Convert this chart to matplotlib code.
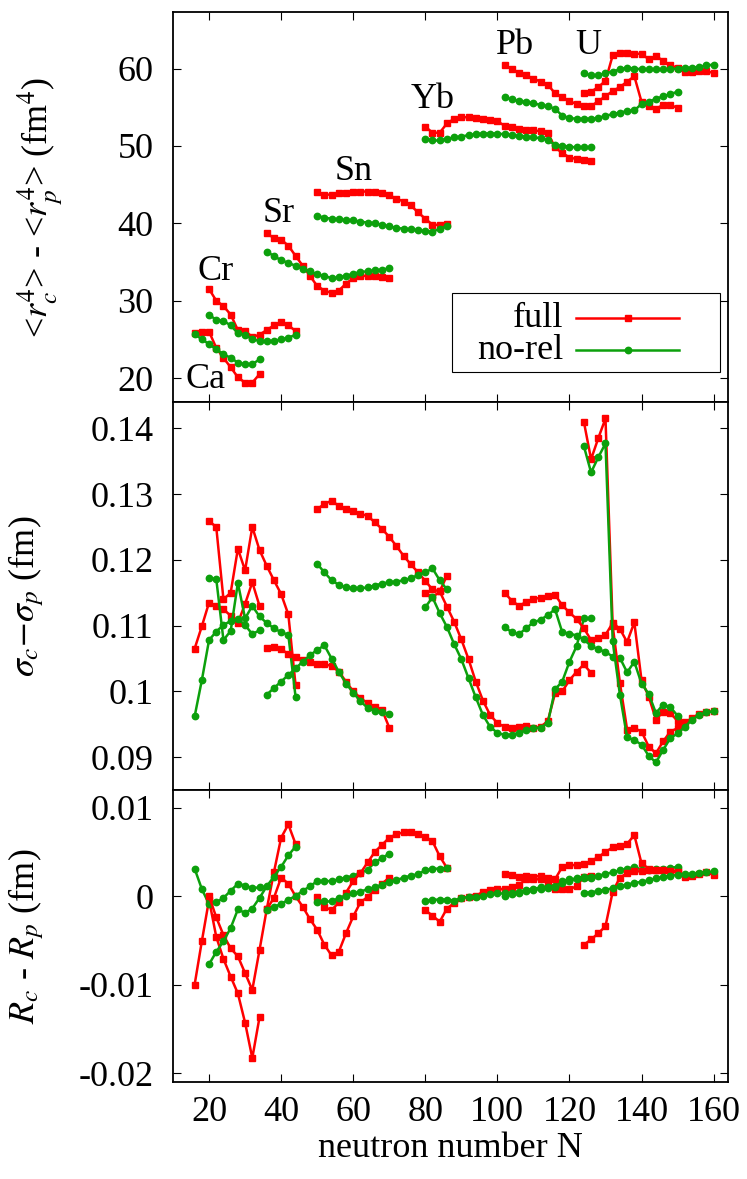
import numpy as np
import matplotlib
matplotlib.use("Agg")
import matplotlib.pyplot as plt
from matplotlib.ticker import FuncFormatter
from matplotlib.patches import Rectangle

plt.rcParams['font.family'] = ['Liberation Serif', 'DejaVu Serif']
plt.rcParams['mathtext.fontset'] = 'stix'

# neutron numbers of each isotopic chain
N_Ca = list(range(16, 35, 2))
N_Cr = list(range(20, 45, 2))
N_Sr = list(range(36, 71, 2))
N_Sn = list(range(50, 87, 2))
N_Yb = list(range(80, 127, 2))
N_Pb = list(range(102, 151, 2))
N_U = list(range(124, 161, 2))

# <r_c^4> - <r_p^4>  (fm^4)
r4_full_Ca = [25.8, 25.9, 26.0, 23.9, 22.6, 21.4, 20.1, 19.4, 19.4, 20.5]
r4_norel_Ca = [25.7, 25.0, 24.4, 23.7, 23.1, 22.6, 22.0, 21.8, 21.8, 22.4]
r4_full_Cr = [31.5, 30.0, 29.3, 28.2, 26.2, 26.1, 25.3, 25.6, 26.2, 26.8, 27.2, 26.8, 26.1]
r4_norel_Cr = [28.2, 27.5, 27.4, 26.8, 25.8, 25.6, 25.0, 24.8, 24.8, 24.8, 25.0, 25.2, 25.6]
r4_full_Sr = [38.7, 38.1, 37.9, 37.1, 35.8, 34.5, 33.2, 31.9, 31.3, 31.0, 31.3, 32.2, 32.9,
              33.2, 33.2, 33.2, 33.0, 32.9]
r4_norel_Sr = [36.3, 35.8, 35.2, 34.9, 34.5, 34.1, 33.8, 33.4, 33.2, 32.9, 33.0, 33.2, 33.5,
               33.7, 33.8, 33.9, 34.0, 34.2]
r4_full_Sn = [44.0, 43.7, 43.7, 43.9, 43.9, 44.0, 44.1, 44.1, 44.0, 43.9, 43.6, 43.2, 42.8,
              42.3, 41.4, 40.6, 39.8, 39.8, 39.9]
r4_norel_Sn = [41.0, 40.7, 40.6, 40.5, 40.4, 40.4, 40.2, 40.1, 40.0, 39.8, 39.6, 39.4, 39.3,
               39.2, 39.1, 39.0, 38.9, 39.3, 39.6]
r4_full_Yb = [52.5, 51.7, 51.7, 52.9, 53.5, 53.7, 53.7, 53.6, 53.5, 53.4, 53.2, 52.6, 52.4,
              52.2, 52.1, 52.0, 51.9, 51.7, 49.8, 49.1, 48.5, 48.3, 48.2, 48.0]
r4_norel_Yb = [50.9, 50.7, 50.7, 50.9, 51.1, 51.2, 51.4, 51.5, 51.6, 51.6, 51.6, 51.5, 51.4,
               51.3, 51.2, 51.1, 51.0, 50.8, 50.1, 50.0, 49.9, 49.8, 49.8, 49.8]
r4_full_Pb = [60.4, 60.0, 59.4, 59.1, 58.7, 58.3, 57.9, 56.8, 56.3, 55.8, 55.4, 55.1, 55.1,
              55.8, 56.4, 57.1, 57.6, 58.3, 59.0, 55.7, 55.1, 54.8, 55.3, 55.3, 54.9]
r4_norel_Pb = [56.3, 56.0, 55.8, 55.7, 55.5, 55.3, 55.1, 54.8, 53.9, 53.6, 53.5, 53.5, 53.5,
               53.6, 53.9, 54.1, 54.3, 54.5, 54.6, 55.4, 55.7, 56.1, 56.4, 56.7, 57.0]
r4_full_U = [56.9, 57.0, 57.6, 58.4, 61.7, 62.0, 62.0, 61.9, 61.9, 61.2, 61.6, 61.0, 60.4,
             60.1, 59.5, 59.6, 59.7, 59.7, 59.4]
r4_norel_U = [59.4, 59.1, 59.1, 59.4, 59.6, 59.9, 60.1, 60.0, 59.9, 59.9, 59.9, 59.9, 59.9,
              60.0, 60.1, 60.1, 60.2, 60.4, 60.5]

# sigma_c - sigma_p  (fm)
sg_full_Ca = [0.1065, 0.1099, 0.1135, 0.1130, 0.1125, 0.1115, 0.1104, 0.1133, 0.1166, 0.1130]
sg_norel_Ca = [0.0962, 0.1017, 0.1078, 0.1091, 0.1101, 0.1107, 0.1110, 0.1101, 0.1087, 0.1093]
sg_full_Cr = [0.1259, 0.1250, 0.1140, 0.1150, 0.1217, 0.1184, 0.1250, 0.1215, 0.1191, 0.1169,
              0.1148, 0.1117, 0.1010]
sg_norel_Cr = [0.1172, 0.1171, 0.1078, 0.1092, 0.1165, 0.1111, 0.1130, 0.1114, 0.1104, 0.1096,
               0.1090, 0.1086, 0.0992]
sg_full_Sr = [0.1066, 0.1068, 0.1064, 0.1057, 0.1052, 0.1048, 0.1045, 0.1042, 0.1041, 0.1039,
              0.1030, 0.1015, 0.1000, 0.0990, 0.0982, 0.0977, 0.0972, 0.0945]
sg_norel_Sr = [0.0995, 0.1005, 0.1015, 0.1025, 0.1035, 0.1045, 0.1055, 0.1063, 0.1070, 0.1050,
               0.1030, 0.1012, 0.0998, 0.0985, 0.0975, 0.0970, 0.0968, 0.0966]
sg_full_Sn = [0.1277, 0.1285, 0.1290, 0.1282, 0.1277, 0.1274, 0.1270, 0.1267, 0.1257, 0.1247,
              0.1235, 0.1221, 0.1206, 0.1193, 0.1181, 0.1168, 0.1155, 0.1152, 0.1176]
sg_norel_Sn = [0.1194, 0.1181, 0.1169, 0.1162, 0.1158, 0.1157, 0.1157, 0.1158, 0.1161, 0.1164,
               0.1166, 0.1167, 0.1169, 0.1172, 0.1177, 0.1181, 0.1187, 0.1169, 0.1155]
sg_full_Yb = [0.1150, 0.1143, 0.1152, 0.1129, 0.1106, 0.1079, 0.1049, 0.1015, 0.0986, 0.0964,
              0.0952, 0.0946, 0.0944, 0.0946, 0.0948, 0.0945, 0.0946, 0.0955, 0.0997, 0.1000,
              0.1017, 0.1030, 0.1041, 0.1028]
sg_norel_Yb = [0.1128, 0.1143, 0.1119, 0.1098, 0.1072, 0.1049, 0.1020, 0.0991, 0.0964, 0.0946,
               0.0937, 0.0934, 0.0934, 0.0937, 0.0941, 0.0944, 0.0945, 0.0952, 0.1003, 0.1015,
               0.1045, 0.1069, 0.1111, 0.1111]
sg_full_Pb = [0.1150, 0.1138, 0.1130, 0.1136, 0.1141, 0.1142, 0.1145, 0.1147, 0.1131, 0.1120,
              0.1110, 0.1096, 0.1078, 0.1081, 0.1086, 0.1104, 0.1095, 0.1075, 0.1105, 0.1017,
              0.0992, 0.0957, 0.0969, 0.0967, 0.0955]
sg_norel_Pb = [0.1098, 0.1090, 0.1087, 0.1096, 0.1105, 0.1109, 0.1116, 0.1125, 0.1090, 0.1088,
               0.1085, 0.1079, 0.1069, 0.1064, 0.1060, 0.1053, 0.1051, 0.1029, 0.1045, 0.1012,
               0.0996, 0.0967, 0.0980, 0.0976, 0.0963]
sg_full_U = [0.1410, 0.1353, 0.1385, 0.1415, 0.1100, 0.1013, 0.0942, 0.0944, 0.0939, 0.0916,
             0.0906, 0.0924, 0.0939, 0.0944, 0.0953, 0.0959, 0.0966, 0.0968, 0.0970]
sg_norel_U = [0.1373, 0.1333, 0.1356, 0.1377, 0.1076, 0.0995, 0.0930, 0.0926, 0.0919, 0.0902,
              0.0892, 0.0911, 0.0929, 0.0936, 0.0946, 0.0957, 0.0964, 0.0968, 0.0970]

# R_c - R_p  (fm)
dR_full_Ca = [-0.0100, -0.0051, -0.0004, -0.0046, -0.0071, -0.0091, -0.0110, -0.0143, -0.0183,
              -0.0137]
dR_norel_Ca = [0.0031, 0.0008, -0.0009, -0.0007, -0.0002, 0.0006, 0.0014, 0.0012, 0.0009, 0.0010]
dR_full_Cr = [0.0000, -0.0024, -0.0044, -0.0059, -0.0068, -0.0087, -0.0106, -0.0061, -0.0015,
              0.0027, 0.0066, 0.0081, 0.0059]
dR_norel_Cr = [-0.0077, -0.0063, -0.0051, -0.0036, -0.0015, -0.0019, -0.0014, -0.0002, 0.0011,
               0.0022, 0.0033, 0.0046, 0.0056]
dR_full_Sr = [-0.0015, -0.0002, 0.0021, 0.0014, 0.0000, -0.0012, -0.0026, -0.0038, -0.0055,
              -0.0067, -0.0063, -0.0042, -0.0023, -0.0007, -0.0001, 0.0007, 0.0014, 0.0021]
dR_norel_Sr = [-0.0016, -0.0012, -0.0009, -0.0004, 0.0000, 0.0006, 0.0011, 0.0017, 0.0017,
               0.0017, 0.0019, 0.0021, 0.0023, 0.0026, 0.0030, 0.0038, 0.0043, 0.0048]
dR_full_Sn = [-0.0001, -0.0012, -0.0016, -0.0007, 0.0004, 0.0017, 0.0026, 0.0038, 0.0050,
              0.0058, 0.0066, 0.0070, 0.0072, 0.0072, 0.0070, 0.0067, 0.0062, 0.0045, 0.0032]
dR_norel_Sn = [-0.0007, -0.0006, -0.0006, -0.0002, 0.0000, 0.0003, 0.0005, 0.0008, 0.0010,
               0.0013, 0.0016, 0.0018, 0.0021, 0.0023, 0.0025, 0.0029, 0.0031, 0.0031, 0.0032]
dR_full_Yb = [-0.0016, -0.0022, -0.0029, -0.0014, -0.0008, -0.0002, -0.0001, 0.0000, 0.0005,
              0.0007, 0.0008, 0.0008, 0.0010, 0.0013, 0.0019, 0.0019, 0.0019, 0.0016, 0.0008,
              0.0008, 0.0008, 0.0011, 0.0022, 0.0023]
dR_norel_Yb = [-0.0006, -0.0004, -0.0004, -0.0004, -0.0005, -0.0002, -0.0001, -0.0001, 0.0000,
               0.0002, 0.0003, 0.0003, 0.0003, 0.0005, 0.0007, 0.0008, 0.0010, 0.0010, 0.0012,
               0.0017, 0.0019, 0.0020, 0.0022, 0.0022]
dR_full_Pb = [0.0025, 0.0024, 0.0022, 0.0023, 0.0022, 0.0023, 0.0021, 0.0019, 0.0033, 0.0035,
              0.0035, 0.0036, 0.0040, 0.0044, 0.0050, 0.0055, 0.0057, 0.0059, 0.0069, 0.0037,
              0.0031, 0.0030, 0.0030, 0.0029, 0.0028]
dR_norel_Pb = [0.0000, 0.0002, 0.0004, 0.0006, 0.0007, 0.0008, 0.0009, 0.0010, 0.0015, 0.0017,
               0.0019, 0.0020, 0.0021, 0.0023, 0.0025, 0.0027, 0.0029, 0.0031, 0.0033, 0.0030,
               0.0030, 0.0031, 0.0031, 0.0032, 0.0033]
dR_full_U = [-0.0055, -0.0049, -0.0042, -0.0034, 0.0005, 0.0021, 0.0026, 0.0028, 0.0028, 0.0029,
             0.0030, 0.0030, 0.0028, 0.0027, 0.0022, 0.0023, 0.0025, 0.0027, 0.0024]
dR_norel_U = [0.0004, 0.0004, 0.0006, 0.0007, 0.0009, 0.0011, 0.0013, 0.0015, 0.0016, 0.0018,
              0.0020, 0.0022, 0.0023, 0.0024, 0.0025, 0.0025, 0.0026, 0.0027, 0.0028]

chains = ["Ca", "Cr", "Sr", "Sn", "Yb", "Pb", "U"]
N_all = [N_Ca, N_Cr, N_Sr, N_Sn, N_Yb, N_Pb, N_U]

panels = [
    ([r4_full_Ca, r4_full_Cr, r4_full_Sr, r4_full_Sn, r4_full_Yb, r4_full_Pb, r4_full_U],
     [r4_norel_Ca, r4_norel_Cr, r4_norel_Sr, r4_norel_Sn, r4_norel_Yb, r4_norel_Pb, r4_norel_U]),
    ([sg_full_Ca, sg_full_Cr, sg_full_Sr, sg_full_Sn, sg_full_Yb, sg_full_Pb, sg_full_U],
     [sg_norel_Ca, sg_norel_Cr, sg_norel_Sr, sg_norel_Sn, sg_norel_Yb, sg_norel_Pb, sg_norel_U]),
    ([dR_full_Ca, dR_full_Cr, dR_full_Sr, dR_full_Sn, dR_full_Yb, dR_full_Pb, dR_full_U],
     [dR_norel_Ca, dR_norel_Cr, dR_norel_Sr, dR_norel_Sn, dR_norel_Yb, dR_norel_Pb, dR_norel_U]),
]

red = '#ff0000'
green = '#0ca00c'
fs = 26
sty_full = dict(color=red, lw=1.8, marker='s', ms=5.0, mec=red)
sty_norel = dict(color=green, lw=1.8, marker='o', ms=4.6, mec=green)

fig = plt.figure(figsize=(7.47, 11.79), dpi=100)
ax1 = fig.add_axes([0.2316, 0.6590, 0.7430, 0.3308])
ax2 = fig.add_axes([0.2316, 0.3299, 0.7430, 0.3291])
ax3 = fig.add_axes([0.2316, 0.0823, 0.7430, 0.2477])
axes = [ax1, ax2, ax3]

for ax, (full, norel) in zip(axes, panels):
    for i in range(len(chains)):
        ax.plot(N_all[i], full[i], **sty_full)
        ax.plot(N_all[i], norel[i], **sty_norel)
    ax.set_xlim(10, 164)
    ax.set_xticks(range(20, 161, 20))
    ax.tick_params(direction='in', length=6, width=0.8, top=True, right=True,
                   labelsize=fs, pad=14)
    for s in ax.spines.values():
        s.set_linewidth(1.3)
    ax.yaxis.set_major_formatter(FuncFormatter(lambda v, p: '%g' % round(v, 4)))

ax1.set_ylim(16.9, 67.3)
ax1.set_yticks([20, 30, 40, 50, 60])
ax2.set_ylim(0.085, 0.144)
ax2.set_yticks([0.09, 0.10, 0.11, 0.12, 0.13, 0.14])
ax3.set_ylim(-0.021, 0.012)
ax3.set_yticks([-0.02, -0.01, 0.0, 0.01])
ax1.tick_params(labelbottom=False)
ax2.tick_params(labelbottom=False)
ax3.tick_params(axis='x', pad=10)

ax1.set_ylabel(r'<$r_c^4$> - <$r_p^4$> (fm$^4$)', fontsize=fs, va='center')
ax1.yaxis.set_label_coords(-0.24, 0.5)
ax2.set_ylabel(r'$\sigma_c$$-$$\sigma_p$ (fm)', fontsize=fs, va='center')
ax2.yaxis.set_label_coords(-0.265, 0.5)
ax3.set_ylabel(r'$R_c$ - $R_p$ (fm)', fontsize=fs, va='center')
ax3.yaxis.set_label_coords(-0.265, 0.5)
ax3.set_xlabel('neutron number N', fontsize=fs, labelpad=2)

# chain labels in the top panel
label_pos = [(18.9, 19.8), (21.7, 33.8), (39.2, 41.2), (60.0, 46.7),
             (82.0, 56.0), (105.0, 63.0), (125.1, 63.0)]
for name, (x, y) in zip(chains, label_pos):
    ax1.text(x, y, name, fontsize=fs, ha='center', va='center')

# gnuplot-style key: right-aligned text, sample line to the right
ax1.add_patch(Rectangle((0.503, 0.077), 0.483, 0.202, transform=ax1.transAxes,
                        fill=True, fc='white', ec='black', lw=0.8, zorder=5))
for yk, lab, sty in [(0.215, 'full', sty_full), (0.133, 'no-rel', sty_norel)]:
    ax1.text(0.703, yk, lab, transform=ax1.transAxes, fontsize=fs,
             ha='right', va='center', zorder=6)
    ax1.plot([0.726, 0.912], [yk, yk], transform=ax1.transAxes, zorder=6,
             **dict(sty, marker=None))
    ax1.plot([0.819], [yk], transform=ax1.transAxes, zorder=6, ls='none',
             marker=sty['marker'], ms=sty['ms'], color=sty['color'])

fig.savefig('out.png', dpi=100)
